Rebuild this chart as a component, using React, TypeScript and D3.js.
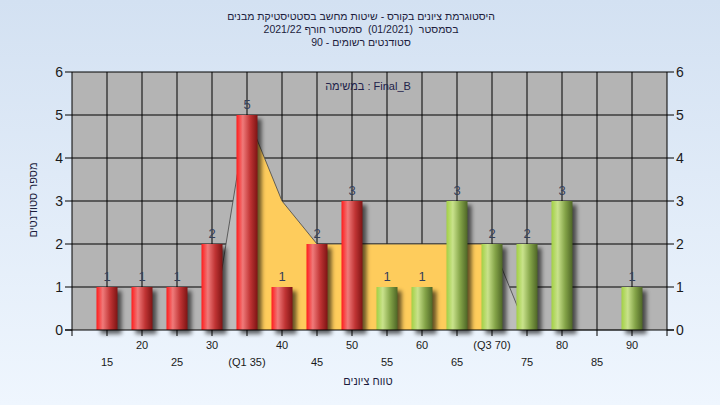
import * as d3 from 'd3';
import * as React from 'react';

// grade bins and number of students in each
const grades = [15, 20, 25, 30, 35, 40, 45, 50, 55, 60, 65, 70, 75, 80, 85, 90];
const counts = [1, 1, 1, 2, 5, 1, 2, 3, 1, 1, 3, 2, 2, 3, 0, 1];
const passFrom = 55;

// background area (yellow between Q1 and Q3)
const areaGrades = [30, 35, 40, 45, 50, 55, 60, 65, 70, 75, 80, 85, 90];
const areaValues = [0, 5, 3, 2, 2, 2, 2, 2, 2, 0, 0, 0, 0];
const q1 = 35;
const q3 = 70;

const yTicks = [0, 1, 2, 3, 4, 5, 6];
const xTickValues = [10, 15, 20, 25, 30, 35, 40, 45, 50, 55, 60, 65, 70, 75, 80, 85, 90, 95];

const titleLines = [
    'היסטוגרמת ציונים בקורס - שיטות מחשב בסטטיסטיקת מבנים',
    'בסמסטר  (01/2021)  סמסטר חורף 2021/22',
    'סטודנטים רשומים - 90',
];
const legendText = 'Final_B : במשימה';
const yTitle = 'מספר סטודנטים';
const xTitle = 'טווח ציונים';

const W = 720;
const H = 405;
const plot = { left: 72, top: 72, right: 667, bottom: 330 };
const font = 'Liberation Sans, Arial, sans-serif';
const rtl = { direction: 'rtl' as const, unicodeBidi: 'embed' as const, whiteSpace: 'pre' as const };

const xLabel = (g: number) => (g === q1 ? '(Q1 35)' : g === q3 ? '(Q3 70)' : String(g));

export default function App() {
    const x = d3.scaleLinear().domain([10, 95]).range([plot.left, plot.right]);
    const y = d3.scaleLinear().domain([0, 6]).range([plot.bottom, plot.top]);
    const barW = x(13) - x(10);

    const pts = areaGrades.map((g, i) => [g, areaValues[i]] as [number, number]);
    const area = d3.area<[number, number]>()
        .x(d => x(d[0]))
        .y0(y(0))
        .y1(d => y(d[1]));
    const line = d3.line<[number, number]>()
        .x(d => x(d[0]))
        .y(d => y(d[1]));
    const yellowPts = pts.filter(d => d[0] >= q1 && d[0] <= q3);

    return (
        <svg width={W} height={H} style={{ position: 'absolute', left: 0, top: 0, display: 'block' }}
            fontFamily={font}>
            <defs>
                <linearGradient id="bg" x1="0" y1="0" x2="0" y2="1">
                    <stop offset="0" stopColor="#d3e1f2" />
                    <stop offset="1" stopColor="#eff6fe" />
                </linearGradient>
                <linearGradient id="red" x1="0" y1="0" x2="1" y2="0">
                    <stop offset="0" stopColor="#ff1c1c" />
                    <stop offset="0.3" stopColor="#ef7a7a" />
                    <stop offset="0.65" stopColor="#c03434" />
                    <stop offset="1" stopColor="#7e1414" />
                </linearGradient>
                <linearGradient id="green" x1="0" y1="0" x2="1" y2="0">
                    <stop offset="0" stopColor="#a2d044" />
                    <stop offset="0.3" stopColor="#c9e28c" />
                    <stop offset="0.65" stopColor="#84a448" />
                    <stop offset="1" stopColor="#4e6626" />
                </linearGradient>
                <filter id="blur" x="-50%" y="-20%" width="200%" height="140%">
                    <feGaussianBlur stdDeviation="2" />
                </filter>
            </defs>
            <rect x={0} y={0} width={W} height={H} fill="url(#bg)" />

            {/* title */}
            {titleLines.map((t, i) => (
                <text key={i} x={361} y={20 + i * 13} textAnchor="middle" fontSize={10.5}
                    fill="#1c1c3c" style={rtl}>{t}</text>
            ))}

            {/* plot background */}
            <rect x={plot.left} y={plot.top} width={plot.right - plot.left} height={plot.bottom - plot.top}
                fill="#b4b4b4" />
            {yTicks.slice(1, -1).map(v => (
                <line key={'h' + v} x1={plot.left} x2={plot.right} y1={y(v)} y2={y(v)} stroke="#000" />
            ))}
            {grades.map(g => (
                <line key={'v' + g} x1={x(g)} x2={x(g)} y1={plot.top} y2={plot.bottom} stroke="#000" />
            ))}

            {/* background area */}
            <path d={area(pts) || ''} fill="#bdbdbd" />
            <path d={area(yellowPts) || ''} fill="#fecc5c" />
            <path d={line(pts) || ''} fill="none" stroke="#444" strokeWidth={0.8} />

            {/* value labels */}
            {grades.map((g, i) => counts[i] > 0 && (
                <text key={'l' + g} x={x(g)} y={y(counts[i]) - 6} textAnchor="middle" fontSize={13}
                    fill="#34405a">{counts[i]}</text>
            ))}

            {/* bars */}
            {grades.map((g, i) => counts[i] > 0 && (
                <g key={'b' + g}>
                    <rect x={x(g) - barW / 2 + 4} y={y(counts[i]) + 4} width={barW} height={y(0) - y(counts[i])}
                        fill="#000" opacity={0.6} filter="url(#blur)" />
                    <rect x={x(g) - barW / 2} y={y(counts[i])} width={barW} height={y(0) - y(counts[i])}
                        fill={g >= passFrom ? 'url(#green)' : 'url(#red)'} />
                </g>
            ))}

            {/* legend */}
            <text x={368} y={90} textAnchor="middle" fontSize={11} fill="#22224a" style={rtl}>{legendText}</text>

            {/* frame */}
            <path d={`M${plot.left},${plot.bottom} V${plot.top} H${plot.right} V${plot.bottom}`}
                fill="none" stroke="#000" />
            <line x1={plot.left - 7} x2={plot.right + 7} y1={plot.bottom} y2={plot.bottom} stroke="#000" />

            {/* y axes */}
            {yTicks.map(v => (
                <g key={'y' + v}>
                    <line x1={plot.left - 7} x2={plot.left} y1={y(v)} y2={y(v)} stroke="#000" />
                    <line x1={plot.right} x2={plot.right + 7} y1={y(v)} y2={y(v)} stroke="#000" />
                    <text x={plot.left - 9} y={y(v) + 5} textAnchor="end" fontSize={14} fill="#1a1a1a">{v}</text>
                    <text x={plot.right + 9} y={y(v) + 5} textAnchor="start" fontSize={14} fill="#1a1a1a">{v}</text>
                </g>
            ))}

            {/* x axis */}
            {xTickValues.map(v => (
                <line key={'xt' + v} x1={x(v)} x2={x(v)} y1={plot.bottom} y2={plot.bottom + 6} stroke="#000" />
            ))}
            {grades.map((g, i) => (
                <text key={'xl' + g} x={x(g)} y={i % 2 === 0 ? 366 : 349} textAnchor="middle" fontSize={11}
                    fill="#1a1a1a">{xLabel(g)}</text>
            ))}

            <text x={368} y={385} textAnchor="middle" fontSize={11} fill="#1c1c3c" style={rtl}>{xTitle}</text>
            <text transform="translate(37,200) rotate(-90)" textAnchor="middle" fontSize={11} fill="#1c1c3c"
                style={rtl}>{yTitle}</text>
        </svg>
    );
}
